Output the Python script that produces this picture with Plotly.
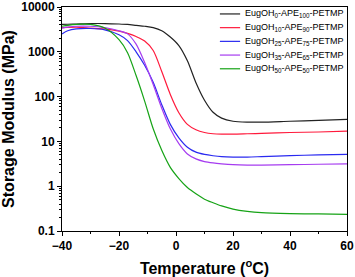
import plotly.graph_objects as go

temperature = [-40, -38, -35, -30, -25, -20, -17, -14, -11, -8, -5, -2, 1, 4, 7, 10, 13, 16, 20, 25, 30, 40, 50, 60]

e_ape100 = [4074, 4121, 4169, 4266, 4266, 4169, 4074, 3890, 3715, 3467, 2951, 2138, 1380, 631, 204, 83, 44.7, 33.1, 28.2, 26.9, 26.9, 28.2, 29.5, 30.9]
e_ape90 = [3467, 3508, 3548, 3388, 3236, 2884, 2570, 2188, 1738, 1072, 363, 112, 43.7, 24.0, 18.2, 15.8, 14.8, 14.5, 14.5, 14.8, 15.1, 15.8, 16.2, 17.0]
e_ape75 = [2512, 2951, 3236, 3311, 3090, 2399, 1778, 1000, 501, 209, 66.1, 24.0, 12.0, 7.41, 5.75, 5.13, 4.79, 4.57, 4.47, 4.47, 4.57, 4.79, 5.01, 5.13]
e_ape65 = [3388, 3548, 3715, 3715, 3467, 2951, 2512, 1479, 575, 186, 55.0, 19.1, 8.91, 5.25, 4.07, 3.55, 3.31, 3.16, 3.02, 2.95, 2.95, 3.02, 3.09, 3.16]
e_ape50 = [3715, 3890, 4074, 4074, 3388, 1862, 955, 295, 79.4, 19.1, 6.31, 2.63, 1.48, 0.933, 0.676, 0.513, 0.427, 0.363, 0.309, 0.275, 0.257, 0.245, 0.240, 0.234]

series_names = [
    "EugOH<sub>0</sub>-APE<sub>100</sub>-PETMP",
    "EugOH<sub>10</sub>-APE<sub>90</sub>-PETMP",
    "EugOH<sub>25</sub>-APE<sub>75</sub>-PETMP",
    "EugOH<sub>35</sub>-APE<sub>65</sub>-PETMP",
    "EugOH<sub>50</sub>-APE<sub>50</sub>-PETMP",
]
series_values = [e_ape100, e_ape90, e_ape75, e_ape65, e_ape50]
series_colors = ["#222222", "#ff1a3c", "#2a2af0", "#a63cf0", "#16a316"]

y_tickvals = [0.1, 1, 10, 100, 1000, 10000]
y_ticktext = ["0.1", "1", "10", "100", "1000", "10000"]
x_tickvals = [-40, -20, 0, 20, 40, 60]

font_family = "Liberation Sans, Arial, sans-serif"

fig = go.Figure()
for name, vals, col in zip(series_names, series_values, series_colors):
    fig.add_trace(go.Scatter(
        x=temperature, y=vals, name=name, mode="lines",
        line=dict(color=col, width=1.2, shape="spline", smoothing=0.8),
        showlegend=False,
    ))

# compact legend (layout-only: lines + labels in paper coordinates)
leg_x0, leg_x1, leg_tx = 0.554, 0.625, 0.635
leg_y0, leg_step = 0.969, 0.0612
for i, (name, col) in enumerate(zip(series_names, series_colors)):
    yy = leg_y0 - i * leg_step
    fig.add_shape(type="line", xref="paper", yref="paper",
                  x0=leg_x0, x1=leg_x1, y0=yy, y1=yy,
                  line=dict(color=col, width=1.2))
    fig.add_annotation(xref="paper", yref="paper", x=leg_tx, y=yy,
                       xanchor="left", yanchor="middle", showarrow=False,
                       text=name, font=dict(size=9, family=font_family, color="black"))

fig.update_layout(
    width=355, height=277,
    margin=dict(l=62, r=8, t=7, b=46, autoexpand=False),
    paper_bgcolor="white", plot_bgcolor="white",
    font=dict(family=font_family, color="black"),
    showlegend=False,
)
fig.update_xaxes(
    range=[-40, 60], tickvals=x_tickvals,
    showline=True, linecolor="black", linewidth=1, mirror=True,
    ticks="outside", ticklen=4, tickcolor="black",
    minor=dict(ticks="outside", ticklen=2, dtick=10, tickcolor="black"),
    showgrid=False, zeroline=False,
    tickfont=dict(size=12, family=font_family, weight="bold"),
    title=dict(text="<b>Temperature (<sup>o</sup>C)</b>", font=dict(size=16), standoff=10),
)
fig.update_yaxes(
    type="log", range=[-1, 4], tickvals=y_tickvals, ticktext=y_ticktext,
    showline=True, linecolor="black", linewidth=1, mirror=True,
    ticks="outside", ticklen=4, tickcolor="black",
    minor=dict(ticks="outside", ticklen=2, dtick="D1", tickcolor="black"),
    showgrid=False, zeroline=False,
    tickfont=dict(size=12, family=font_family, weight="bold"),
    title=dict(text="<b>Storage Modulus (MPa)</b>", font=dict(size=16), standoff=2),
)
fig.write_html(
    "out.html",
    config={"displayModeBar": False},
    post_script="document.body.style.margin='0';document.body.style.overflow='hidden';",
)
